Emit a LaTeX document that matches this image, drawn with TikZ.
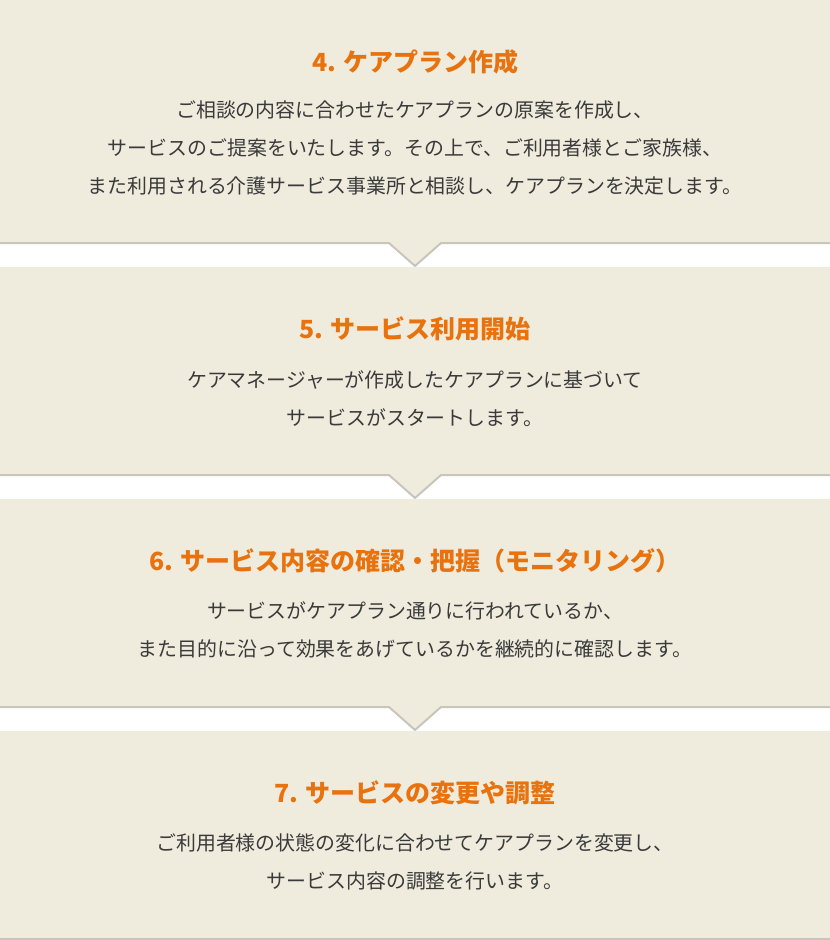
\documentclass[tikz,border=0pt]{standalone}
\usepackage{fontspec}
\newfontfamily\jpfont{Noto Sans CJK JP}
\definecolor{cream}{HTML}{EFECDE}
\definecolor{rim}{HTML}{C8C6BB}
\definecolor{accent}{HTML}{E8730E}
\definecolor{ink}{HTML}{3A3A3A}
\newcommand{\stepno}[1]{#1.\hspace{7pt}}
\tikzset{
  rimline/.style={draw=rim, line width=2pt, line join=miter},
  steptitle/.style={font=\jpfont\bfseries\fontsize{25}{29}\selectfont, text=accent, inner sep=0pt},
  stepbody/.style={font=\jpfont\fontsize{19.9}{38}\selectfont, text=ink, align=center, inner sep=0pt},
}

\begin{document}
\begin{tikzpicture}[x=1pt, y=1pt]
    \useasboundingbox (0,0) rectangle (830,-940);
    \fill[white] (0,0) rectangle (830,-940);

    % panel 4
    \fill[cream] (0,0) -- (0,-243) -- (389,-243) -- (415,-266) -- (441,-243) -- (830,-243) -- (830,0) -- cycle;
    \draw[rimline] (0,-243) -- (389,-243) -- (415,-266) -- (441,-243) -- (830,-243);
    \node[steptitle] (t4) at (415,-62) {\stepno{4}ケアプラン作成};
    \node[stepbody] (b4) at (415,-148) {ご相談の内容に合わせたケアプランの原案を作成し、\\サービスのご提案をいたします。その上で、ご利用者様とご家族様、\\また利用される介護サービス事業所と相談し、ケアプランを決定します。};

    % panel 5
    \fill[cream] (0,-267) -- (0,-475) -- (389,-475) -- (415,-498) -- (441,-475) -- (830,-475) -- (830,-267) -- cycle;
    \draw[rimline] (0,-475) -- (389,-475) -- (415,-498) -- (441,-475) -- (830,-475);
    \node[steptitle] (t5) at (415,-329) {\stepno{5}サービス利用開始};
    \node[stepbody] (b5) at (415,-398.5) {ケアマネージャーが作成したケアプランに基づいて\\サービスがスタートします。};

    % panel 6
    \fill[cream] (0,-499) -- (0,-707) -- (389,-707) -- (415,-730) -- (441,-707) -- (830,-707) -- (830,-499) -- cycle;
    \draw[rimline] (0,-707) -- (389,-707) -- (415,-730) -- (441,-707) -- (830,-707);
    \node[steptitle] (t6) at (415,-561) {\stepno{6}サービス内容の確認・把握（モニタリング）};
    \node[stepbody] (b6) at (415,-630) {サービスがケアプラン通りに行われているか、\\また目的に沿って効果をあげているかを継続的に確認します。};

    % panel 7
    \fill[cream] (0,-731) rectangle (830,-939);
    \draw[rimline] (0,-939) -- (830,-939);
    \node[steptitle] (t7) at (415,-793) {\stepno{7}サービスの変更や調整};
    \node[stepbody] (b7) at (415,-862) {ご利用者様の状態の変化に合わせてケアプランを変更し、\\サービス内容の調整を行います。};
\end{tikzpicture}
\end{document}
